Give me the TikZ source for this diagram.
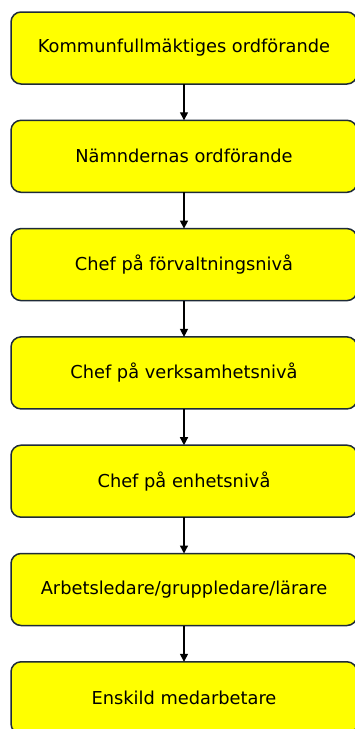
\documentclass[tikz,border=0pt]{standalone}
\usepackage{fontspec}
\setmainfont{DejaVu Sans}
\usetikzlibrary{positioning, arrows.meta}
\definecolor{chainYellow}{HTML}{FFFF00}
\definecolor{chainEdge}{HTML}{1E2B38}

\tikzset{
	rankbox/.style={draw=chainEdge, line width=1.5pt, fill=chainYellow, rounded corners=10pt,
		minimum width=346pt, minimum height=72pt, inner sep=0pt, outer sep=0pt,
		text=black, font=\fontsize{17.8}{21}\selectfont},
	downarrow/.style={-{Triangle[length=8pt, width=8pt]}, line width=1.3pt, black}
}

\begin{document}
\begin{tikzpicture}[x=1pt, y=1pt, node distance=36.3pt]
	% Fixed frame so the page keeps the reference size
	\useasboundingbox (0,0) rectangle (354,-729);
	
	% Chain of levels, top to bottom
	\node[rankbox] (kf) at (184,-48) {Kommunfullmäktiges ordförande};
	\node[rankbox, below=of kf] (nam) {Nämndernas ordförande};
	\node[rankbox, below=of nam] (forv) {Chef på förvaltningsnivå};
	\node[rankbox, below=of forv] (verk) {Chef på verksamhetsnivå};
	\node[rankbox, below=of verk] (enh) {Chef på enhetsnivå};
	\node[rankbox, below=of enh] (arb) {Arbetsledare/gruppledare/lärare};
	\node[rankbox, below=of arb] (med) {Enskild medarbetare};
	
	% Arrows between neighbouring levels
	\foreach \a/\b in {kf/nam, nam/forv, forv/verk, verk/enh, enh/arb, arb/med}{
		\draw[downarrow] (\a.south) -- (\b.north);
	}
\end{tikzpicture}
\end{document}
